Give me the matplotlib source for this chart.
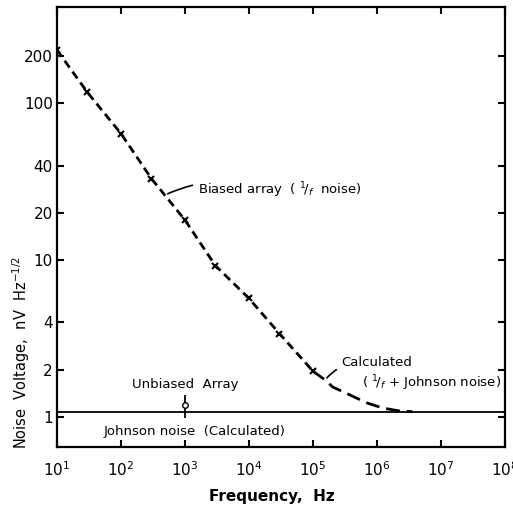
import matplotlib
matplotlib.use('Agg')
import matplotlib.pyplot as plt

# measured points, biased array (1/f noise)
freq = [10, 30, 100, 300, 1000, 3000, 1e4, 3e4, 1e5]
volt = [218, 117, 64, 33, 18, 9.2, 5.7, 3.4, 1.96]

# calculated 1/f + Johnson tail
calc_f = [1e5, 1.55e5, 2.05e5, 3.8e5, 6.9e5, 1.23e6, 2.3e6, 3.6e6]
calc_v = [1.96, 1.72, 1.55, 1.38, 1.23, 1.14, 1.09, 1.08]

# Johnson noise (calculated)
johnson = 1.08
xrange_ = [10, 1e8]

# unbiased array
unb_f = [1000]
unb_v = [1.19]
unb_lo = [0.2]
unb_hi = [0.19]

yticks = [1, 2, 4, 10, 20, 40, 100, 200]
xticks = [10**k for k in range(1, 9)]

plt.rcParams['font.family'] = 'DejaVu Sans'
fig = plt.figure(figsize=(5.13, 5.09), dpi=100)
ax = fig.add_axes([0.111, 0.122, 0.873, 0.864])
ax.set_xscale('log')
ax.set_yscale('log')
ax.set_xlim(10, 1e8)
ax.set_ylim(0.644, 409)

ax.plot(freq, volt, color='black', lw=2, ls=(0, (3, 1.8)))
ax.plot(freq, volt, ls='none', marker='x', ms=5, mew=1.5, color='black')
ax.plot(calc_f, calc_v, color='black', lw=2, ls=(0, (5, 2.5)))
ax.plot(xrange_, [johnson, johnson], color='black', lw=1.3)
ax.errorbar(unb_f, unb_v, yerr=[unb_lo, unb_hi], fmt='o', ms=4, mfc='white',
            mec='black', ecolor='black', elinewidth=1.3, capsize=0)

ax.set_xticks(xticks)
ax.set_xticklabels([r'$10^{%d}$' % k for k in range(1, 9)])
ax.set_yticks(yticks)
ax.set_yticklabels([str(v) for v in yticks])
ax.minorticks_off()
ax.tick_params(direction='in', length=5, width=1.5, labelsize=11,
               top=True, right=True, pad=3)
ax.tick_params(axis='x', pad=10)
for s in ax.spines.values():
    s.set_linewidth(1.6)

ax.set_xlabel('Frequency,  Hz', fontsize=11, fontweight='bold')
ax.xaxis.set_label_coords(0.48, -0.095)
ax.set_ylabel(r'Noise  Voltage,  nV  Hz$^{-1/2}$', fontsize=10.5)
ax.yaxis.set_label_coords(-0.056, 0.215)

ax.annotate(r'Biased array  ( $^{1}\!/_{f}$  noise)', xy=(490, 26),
            xytext=(1600, 28), fontsize=9.5, va='center',
            arrowprops=dict(arrowstyle='-', color='black', lw=1.2,
                            connectionstyle='arc3,rad=0.2'))
ax.annotate('Calculated', xy=(1.55e5, 1.72), xytext=(2.8e5, 2.21),
            fontsize=9.5, va='center',
            arrowprops=dict(arrowstyle='-', color='black', lw=1.2,
                            connectionstyle='arc3,rad=0.3'))
ax.text(5.9e5, 1.65, r'( $^{1}\!/_{f}$ + Johnson noise)', fontsize=9.5,
        va='center')
ax.text(1000, 1.62, 'Unbiased  Array', fontsize=9.5, ha='center', va='center')
ax.text(1400, 0.805, 'Johnson noise  (Calculated)', fontsize=9.5,
        ha='center', va='center')

fig.savefig('out.png', dpi=100)
